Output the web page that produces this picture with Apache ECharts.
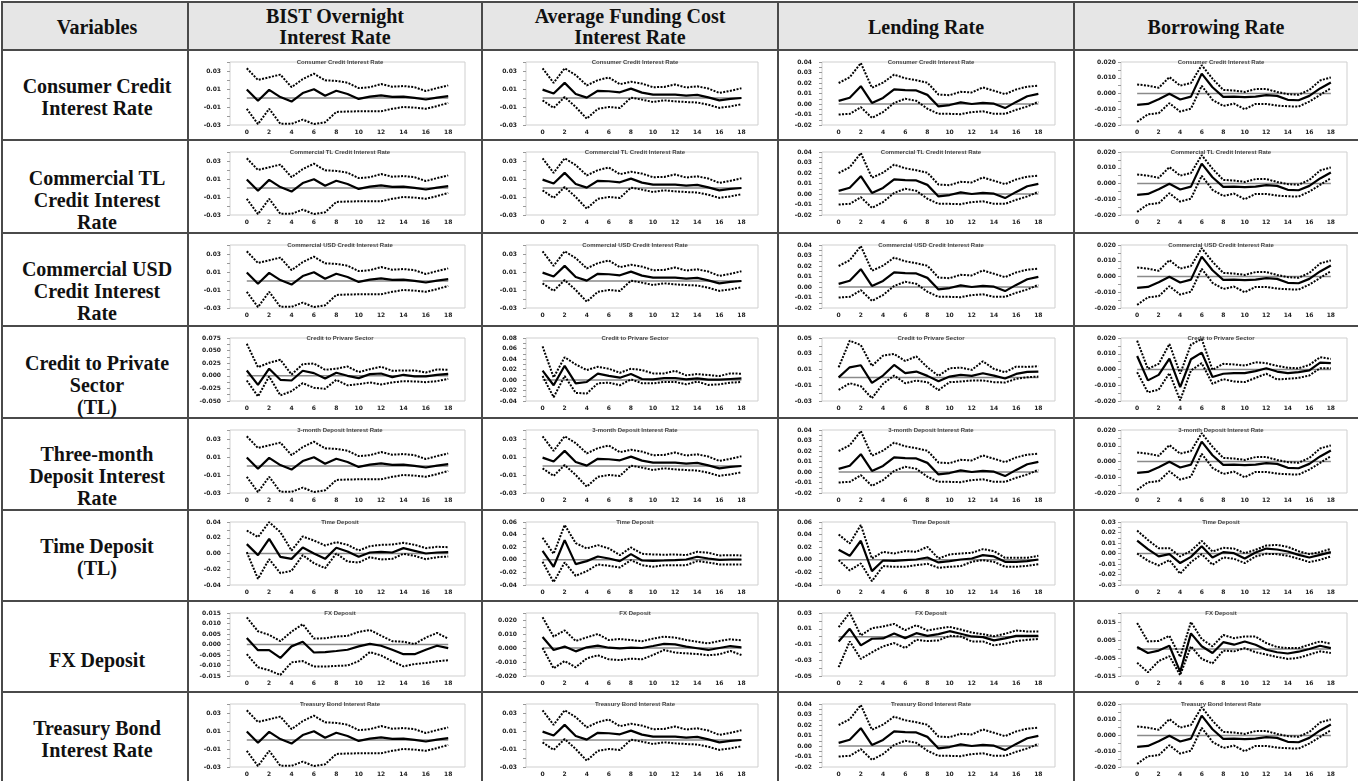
<!DOCTYPE html>
<html><head><meta charset="utf-8">
<script src="https://cdn.jsdelivr.net/npm/echarts@6/dist/echarts.min.js"></script>
<style>
html,body{margin:0;padding:0;width:1358px;height:781px;overflow:hidden;background:#fff;}
#chart{position:absolute;left:0;top:0;width:1358px;height:781px;z-index:2;}
.ln{position:absolute;background:#4a4a4a;z-index:1;}
.hdr{position:absolute;background:#e6e6e6;z-index:0;}
.txt{position:absolute;font-family:"Liberation Serif","Times New Roman",serif;font-weight:bold;font-size:20px;color:#111;text-align:center;z-index:1;white-space:nowrap;}
</style></head><body>
<div id="table"></div>
<div id="chart"></div>
<script>
// ---------------- DATA ----------------
const horizons = [0,1,2,3,4,5,6,7,8,9,10,11,12,13,14,15,16,17,18];
const zeroLine = [0,0,0,0,0,0,0,0,0,0,0,0,0,0,0,0,0,0,0];
const xTickLabels = [0,2,4,6,8,10,12,14,16,18];

const colHeaders = [['Variables'],['BIST Overnight','Interest Rate'],['Average Funding Cost','Interest Rate'],['Lending Rate'],['Borrowing Rate']];
const rowLabels = [
  ['Consumer Credit','Interest Rate'],
  ['Commercial TL','Credit Interest','Rate'],
  ['Commercial USD','Credit Interest','Rate'],
  ['Credit to Private','Sector','(TL)'],
  ['Three-month','Deposit Interest','Rate'],
  ['Time Deposit','(TL)'],
  ['FX Deposit'],
  ['Treasury Bond','Interest Rate']
];
const panelTitles = ['Consumer Credit Interest Rate','Commercial TL Credit Interest Rate','Commercial USD Credit Interest Rate','Credit to Privare Sector','3-month Deposit Interest Rate','Time Deposit','FX Deposit','Treasury Bond Interest Rate'];
const rowDataset = ['A','A','A','CP','A','TD','FX','A'];
const colKeys = ['bist','afc','lend','borr'];

// BIST overnight column
const bistA_irf = [0.0095,-0.003,0.009,0.001,-0.004,0.0055,0.0098,0.0025,0.008,0.0045,-0.001,0.0015,0.003,0.0012,0.0015,0.0002,-0.0017,0.0005,0.002];
const bistA_hi  = [0.033,0.020,0.023,0.026,0.012,0.021,0.027,0.0197,0.019,0.017,0.011,0.012,0.0155,0.0125,0.0133,0.012,0.0077,0.011,0.014];
const bistA_lo  = [-0.012,-0.029,-0.012,-0.0287,-0.0287,-0.024,-0.029,-0.027,-0.0155,-0.015,-0.0148,-0.0148,-0.0148,-0.012,-0.01,-0.0107,-0.012,-0.009,-0.0055];
const bistA_y = ['-0.03','-0.01','0.01','0.03'];  const bistA_range = [-0.03,0.04];

const bistCP_irf = [0.0106,-0.018,0.014,-0.008,-0.0093,0.01,0.0053,-0.0053,0.006,0,-0.0046,0.0033,0.0046,-0.0026,0.002,-0.0013,-0.0013,0.002,0.004];
const bistCP_hi  = [0.0635,0.017,0.0258,0.0318,0.0026,0.023,0.0245,0.012,0.014,0.0185,0.0073,0.0132,0.0179,0.01,0.0106,0.0106,0.0066,0.0126,0.012];
const bistCP_lo  = [-0.0093,-0.041,-0.0013,-0.039,-0.0304,-0.0146,-0.0238,-0.0258,-0.008,-0.019,-0.0165,-0.0132,-0.0172,-0.0132,-0.0106,-0.0112,-0.0126,-0.0106,-0.006];
const bistCP_y = ['-0.050','-0.025','0.000','0.025','0.050','0.075'];  const bistCP_range = [-0.05,0.075];

const bistTD_irf = [0.0119,-0.0021,0.0186,-0.0042,-0.0068,0.0076,0,-0.0068,0.0072,0.0025,-0.0042,0.0013,0.0021,0.0013,0.0068,0.0034,0,0.0013,0.0017];
const bistTD_hi  = [0.0292,0.0208,0.0398,0.0271,0.0038,0.0216,0.0165,0.0102,0.0144,0.011,0.0038,0.0093,0.011,0.0114,0.0136,0.011,0.0068,0.0085,0.008];
const bistTD_lo  = [0.0017,-0.0322,-0.0072,-0.025,-0.022,-0.0021,-0.0123,-0.0186,0,-0.0102,-0.0114,-0.0047,-0.0076,-0.0068,-0.0004,-0.003,-0.0072,-0.0047,-0.0038];
const bistTD_y = ['-0.04','-0.02','0.00','0.02','0.04'];  const bistTD_range = [-0.04,0.04];

const bistFX_irf = [0.0031,-0.0027,-0.0027,-0.0064,-0.0009,0.0013,-0.0038,-0.0036,-0.0031,-0.0025,-0.0009,0.0003,-0.0006,-0.0025,-0.0046,-0.0046,-0.0025,-0.0006,-0.0017];
const bistFX_hi  = [0.0129,0.0063,0.0046,0.0016,0.0061,0.0097,0.0028,0.003,0.0038,0.0041,0.006,0.0069,0.0042,0.0016,0.0013,0.0002,0.0033,0.0055,0.0028];
const bistFX_lo  = [-0.0046,-0.0108,-0.0123,-0.0145,-0.0085,-0.0079,-0.0105,-0.0105,-0.0102,-0.01,-0.0079,-0.0036,-0.0052,-0.008,-0.0104,-0.0093,-0.0088,-0.008,-0.0075];
const bistFX_y = ['-0.015','-0.010','-0.005','0.000','0.005','0.010','0.015'];  const bistFX_range = [-0.015,0.015];

// Average funding cost column
const afcA_irf = [0.0093,0.005,0.0168,0.0045,0.0004,0.008,0.0075,0.0063,0.0104,0.006,0.0037,0.0037,0.0037,0.0026,0.0034,0.0007,-0.0026,-0.001,0.0];
const afcA_hi  = [0.033,0.0168,0.033,0.0255,0.014,0.0198,0.0228,0.0153,0.018,0.016,0.012,0.0123,0.015,0.0116,0.013,0.0105,0.0056,0.008,0.0108];
const afcA_lo  = [-0.0026,-0.011,0.0011,-0.01,-0.023,-0.012,-0.01,-0.011,0.0004,-0.0018,-0.0045,-0.0026,-0.0037,-0.0045,-0.005,-0.0075,-0.011,-0.0093,-0.007];
const afcA_y = ['-0.03','-0.01','0.01','0.03'];  const afcA_range = [-0.03,0.04];

const afcCP_irf = [0.018,-0.01,0.027,-0.0063,-0.0038,0.012,0.008,0.0044,0.0113,0.0019,0.0013,0.0038,0.0038,0.0013,0.0031,0.0006,0.0006,0.0019,0.0031];
const afcCP_hi  = [0.064,0.005,0.0434,0.0296,0.0189,0.0252,0.0214,0.0138,0.0214,0.0189,0.0126,0.0126,0.0176,0.0088,0.0113,0.0094,0.0075,0.0126,0.012];
const afcCP_lo  = [0.0075,-0.0327,0.0075,-0.0245,-0.0258,-0.0063,-0.005,-0.01,0.0013,-0.0063,-0.0063,-0.0038,-0.0038,-0.0082,-0.0031,-0.0094,-0.0082,-0.005,-0.0038];
const afcCP_y = ['-0.04','-0.02','0.00','0.02','0.04','0.06','0.08'];  const afcCP_range = [-0.04,0.08];

const afcTD_irf = [0.0143,-0.0111,0.0312,-0.0069,-0.0021,0.0053,0.0021,-0.0021,0.009,-0.0011,-0.0016,-0.0011,-0.0005,0.0005,0.0048,0.0021,0,0.0005,0.0005];
const afcTD_hi  = [0.035,0.0095,0.0553,0.0265,0.018,0.0233,0.018,0.0074,0.0196,0.0095,0.0085,0.008,0.0085,0.0074,0.0127,0.0111,0.0069,0.0074,0.0069];
const afcTD_lo  = [-0.0032,-0.0355,-0.0042,-0.0254,-0.018,-0.0074,-0.0095,-0.0122,-0.0005,-0.0085,-0.0111,-0.0085,-0.0085,-0.0085,-0.0021,-0.0042,-0.0074,-0.0074,-0.0074];
const afcTD_y = ['-0.04','-0.02','0.00','0.02','0.04','0.06'];  const afcTD_range = [-0.04,0.06];

const afcFX_irf = [0.0079,-0.0014,0.001,-0.0024,0.0005,0.0017,0.0002,-0.0002,0.0002,0,0.0014,0.0029,0.0026,0.001,-0.0002,-0.0014,0,0.0014,0.0005];
const afcFX_hi  = [0.0219,0.0081,0.0126,0.005,0.0076,0.01,0.0057,0.0064,0.0057,0.0048,0.0067,0.0081,0.0074,0.0057,0.0045,0.0033,0.005,0.0062,0.0055];
const afcFX_lo  = [0,-0.0145,-0.0093,-0.0138,-0.0074,-0.0052,-0.0081,-0.0086,-0.0076,-0.0081,-0.005,-0.0014,-0.0033,-0.0038,-0.0043,-0.0052,-0.0045,-0.0021,-0.005];
const afcFX_y = ['-0.020','-0.010','0.000','0.010','0.020'];  const afcFX_range = [-0.02,0.025];

// Lending rate column
const lendA_irf = [0.003,0.006,0.017,0.001,0.0058,0.0139,0.0132,0.0129,0.0087,-0.0023,-0.001,0.0016,0.0,0.001,0.0003,-0.0039,0.002,0.0074,0.0097];
const lendA_hi  = [0.02,0.0255,0.039,0.0155,0.0203,0.028,0.0245,0.0226,0.0203,0.009,0.0084,0.0116,0.011,0.0158,0.0126,0.0094,0.0139,0.0165,0.0174];
const lendA_lo  = [-0.01,-0.0094,-0.003,-0.0132,-0.0077,0.001,0.005,0.003,-0.0045,-0.0094,-0.0094,-0.0097,-0.0077,-0.007,-0.0094,-0.0094,-0.0055,-0.0023,0.002];
const lendA_y = ['-0.02','-0.01','0.00','0.01','0.02','0.03','0.04'];  const lendA_range = [-0.02,0.04];

const lendCP_irf = [0.0,0.0128,0.0154,-0.007,0.0023,0.0158,0.0053,0.0074,0.0019,-0.0048,0.001,0.0032,0.0019,0.0053,0.0023,-0.0015,0.0044,0.007,0.0074];
const lendCP_hi  = [0.0128,0.0465,0.041,0.0145,0.0276,0.0297,0.0208,0.0267,0.0128,0.0019,0.0116,0.0124,0.0095,0.0204,0.0107,0.0065,0.0137,0.0133,0.0141];
const lendCP_lo  = [-0.0158,-0.0074,-0.0112,-0.0265,-0.0082,0.0023,-0.0074,-0.004,-0.0061,-0.0162,-0.0061,-0.0053,-0.004,-0.004,-0.0061,-0.0065,-0.0019,0.0002,0.001];
const lendCP_y = ['-0.03','-0.01','0.01','0.03','0.05'];  const lendCP_range = [-0.03,0.05];

const lendTD_irf = [0.0159,0.0063,0.0302,-0.018,-0.0011,-0.0016,-0.0005,0.0005,0.0037,-0.0042,-0.0021,0.0005,0.0021,0.0074,0.0053,-0.0032,-0.0032,-0.0021,0.0005];
const lendTD_hi  = [0.0402,0.0259,0.0553,0.0021,0.0127,0.01,0.0138,0.0127,0.0206,0.0021,0.0085,0.01,0.0111,0.0169,0.0138,0.0032,0.0032,0.0032,0.0063];
const lendTD_lo  = [-0.0005,-0.0169,-0.0058,-0.0339,-0.01,-0.0111,-0.0111,-0.0085,-0.0063,-0.0127,-0.0111,-0.01,-0.0032,-0.0005,-0.0032,-0.0111,-0.0111,-0.0095,-0.0069];
const lendTD_y = ['-0.04','-0.02','0.00','0.02','0.04','0.06'];  const lendTD_range = [-0.04,0.06];

const lendFX_irf = [-0.0061,0.0099,-0.0111,-0.0027,-0.0023,0.004,-0.0019,0.0044,0.001,0.0031,0.0069,0.0036,0.0002,-0.0006,-0.0048,-0.0023,0.001,0.001,0.001];
const lendFX_hi  = [0.012,0.0304,0.0015,0.0107,0.0128,0.0162,0.0082,0.0145,0.0078,0.0103,0.0124,0.009,0.0052,0.0031,0.0006,0.0036,0.0078,0.0065,0.0065];
const lendFX_lo  = [-0.0388,-0.0061,-0.0283,-0.0199,-0.0124,-0.0082,-0.0145,-0.004,-0.0057,-0.0048,0.001,0.0002,-0.0061,-0.0061,-0.0111,-0.009,-0.0057,-0.004,-0.0031];
const lendFX_y = ['-0.05','-0.03','-0.01','0.01','0.03'];  const lendFX_range = [-0.05,0.03];

// Borrowing rate column
const borrA_irf = [-0.0072,-0.0066,-0.0036,-0.0002,-0.0038,-0.002,0.0126,0.004,-0.0021,-0.002,-0.0023,-0.002,-0.001,-0.0015,-0.004,-0.0043,-0.0015,0.0032,0.007];
const borrA_hi  = [0.0057,0.005,0.0036,0.0104,0.005,0.0066,0.018,0.0094,0.0023,0.0019,0.001,0.0028,0.0028,0.001,-0.0004,-0.0008,0.0023,0.0083,0.0102];
const borrA_lo  = [-0.018,-0.0132,-0.0125,-0.0062,-0.0115,-0.0096,0.0049,-0.004,-0.0079,-0.0064,-0.01,-0.0066,-0.0066,-0.0077,-0.0081,-0.0083,-0.0051,-0.0009,0.0034];
const borrA_y = ['-0.020','-0.010','0.000','0.010','0.020'];  const borrA_range = [-0.02,0.02];

const borrCP_irf = [0.0086,-0.0069,-0.0034,0.0069,-0.0112,0.0065,0.0107,-0.0048,-0.0027,-0.0023,-0.0023,-0.001,0.0008,-0.0013,-0.0023,-0.0017,-0.0006,0.0044,0.004];
const borrCP_hi  = [0.0183,0.0004,0.0036,0.0162,-0.0027,0.0158,0.0194,-0.0002,0.0036,0.0032,0.0025,0.0046,0.004,0.0023,0.0011,0.0008,0.0029,0.0078,0.0067];
const borrCP_lo  = [-0.0017,-0.0145,-0.0128,-0.0023,-0.0196,-0.0006,0.004,-0.0091,-0.0061,-0.0076,-0.008,-0.0053,-0.0027,-0.0063,-0.0059,-0.0053,-0.0038,0.0008,0.0008];
const borrCP_y = ['-0.020','-0.010','0.000','0.010','0.020'];  const borrCP_range = [-0.02,0.02];

const borrTD_irf = [0.0123,0.0041,-0.0028,-0.0006,-0.0091,-0.0032,0.0069,-0.0038,0.0013,0.0003,-0.0047,0.0009,0.0047,0.0038,0.0019,-0.0013,-0.0038,-0.0013,0.0013];
const borrTD_hi  = [0.0218,0.0129,0.005,0.005,-0.0028,0.0025,0.012,0.0019,0.0054,0.0047,0.0003,0.0035,0.0076,0.0082,0.0063,0.0022,-0.0006,0.0013,0.0044];
const borrTD_lo  = [0,-0.0069,-0.0114,-0.0063,-0.0192,-0.0082,-0.0006,-0.0107,-0.0038,-0.005,-0.0091,-0.0028,-0.0003,-0.0006,-0.0022,-0.005,-0.0082,-0.006,-0.0028];
const borrTD_y = ['-0.03','-0.02','-0.01','0.00','0.01','0.02','0.03'];  const borrTD_range = [-0.03,0.03];

const borrFX_irf = [0.0011,-0.0022,-0.0009,0.0018,-0.0127,0.0087,0.0015,-0.0022,0.0038,0.0024,0.0042,0.0024,-0.0004,-0.0018,-0.0025,-0.0015,0,0.0018,0.0005];
const borrFX_hi  = [0.0145,0.0042,0.0045,0.0073,-0.0044,0.015,0.0055,0.0015,0.0078,0.006,0.0069,0.0069,0.0033,0.0011,0.0005,0.0005,0.0024,0.0042,0.0029];
const borrFX_lo  = [-0.0076,-0.0129,-0.0067,-0.004,-0.0145,0.0015,-0.0055,-0.008,-0.0009,-0.0013,0.0005,-0.0018,-0.0031,-0.0044,-0.0055,-0.0049,-0.0031,-0.0013,-0.0022];
const borrFX_y = ['-0.015','-0.005','0.005','0.015'];  const borrFX_range = [-0.015,0.02];

// ---------------- LAYOUT (positions / styles) ----------------
const colEdges = [2,188,482,778,1074,1358];
const rowEdges = [2,50,140,233,326,418,510,601,692,781];
const rowLabelCenters = [97,200,291,385,476,557,660,739];
const gridCols = [
  {left:230, width:235, margin:9},
  {left:526, width:232, margin:9},
  {left:822, width:233, margin:10},
  {left:1121, width:226, margin:5}
];

// build lookup from the named arrays
const store = {
  bist:{A:[bistA_irf,bistA_lo,bistA_hi,bistA_y,bistA_range],CP:[bistCP_irf,bistCP_lo,bistCP_hi,bistCP_y,bistCP_range],TD:[bistTD_irf,bistTD_lo,bistTD_hi,bistTD_y,bistTD_range],FX:[bistFX_irf,bistFX_lo,bistFX_hi,bistFX_y,bistFX_range]},
  afc:{A:[afcA_irf,afcA_lo,afcA_hi,afcA_y,afcA_range],CP:[afcCP_irf,afcCP_lo,afcCP_hi,afcCP_y,afcCP_range],TD:[afcTD_irf,afcTD_lo,afcTD_hi,afcTD_y,afcTD_range],FX:[afcFX_irf,afcFX_lo,afcFX_hi,afcFX_y,afcFX_range]},
  lend:{A:[lendA_irf,lendA_lo,lendA_hi,lendA_y,lendA_range],CP:[lendCP_irf,lendCP_lo,lendCP_hi,lendCP_y,lendCP_range],TD:[lendTD_irf,lendTD_lo,lendTD_hi,lendTD_y,lendTD_range],FX:[lendFX_irf,lendFX_lo,lendFX_hi,lendFX_y,lendFX_range]},
  borr:{A:[borrA_irf,borrA_lo,borrA_hi,borrA_y,borrA_range],CP:[borrCP_irf,borrCP_lo,borrCP_hi,borrCP_y,borrCP_range],TD:[borrTD_irf,borrTD_lo,borrTD_hi,borrTD_y,borrTD_range],FX:[borrFX_irf,borrFX_lo,borrFX_hi,borrFX_y,borrFX_range]}
};

// ---------------- TABLE (HTML) ----------------
const tbl = document.getElementById('table');
function addDiv(cls, css, html){ const d=document.createElement('div'); d.className=cls; Object.assign(d.style,css); if(html!==undefined) d.innerHTML=html; tbl.appendChild(d); return d; }
addDiv('hdr',{left:'2px',top:'2px',width:'1356px',height:'48px'});
rowEdges.slice(0,-1).forEach(y=>addDiv('ln',{left:'1px',top:(y-1)+'px',width:'1357px',height:'2px'}));
colEdges.slice(0,-1).forEach(x=>addDiv('ln',{left:(x-1)+'px',top:'1px',width:'2px',height:'780px'}));
function addText(lines, cx, cy, lh){
  const h = lines.length*lh;
  addDiv('txt',{left:(cx-200)+'px',width:'400px',top:(cy-h/2)+'px',lineHeight:lh+'px'}, lines.join('<br>'));
}
colHeaders.forEach((lines,c)=>{
  const cx = c===0 ? 97 : (colEdges[c]+colEdges[c+1])/2;
  addText(lines, cx, 27, 21);
});
rowLabels.forEach((lines,r)=>addText(lines, 97, rowLabelCenters[r], 22));

// ---------------- CHARTS ----------------
const chart = echarts.init(document.getElementById('chart'), null, {renderer:'canvas'});
const grids=[], xAxes=[], yAxes=[], series=[], titles=[];
const labelFont = {fontFamily:'DejaVu Sans', fontWeight:'bold', fontSize:6, color:'#222'};
function tickValues(lbls, range){
  const v = lbls.map(Number);
  const half = (v[1]-v[0])/2;
  const out=[];
  for(let t=v[0]; t>=range[0]-1e-9; t-=half) out.push(+t.toFixed(6));
  for(let t=v[0]+half; t<=range[1]+1e-9; t+=half) out.push(+t.toFixed(6));
  return out;
}
let k=0;
for(let r=0;r<8;r++){
  for(let c=0;c<4;c++){
    const [irf,lo,hi,ylbl,yr] = store[colKeys[c]][rowDataset[r]];
    const gc = gridCols[c];
    const top = rowEdges[r+1]+12;
    grids.push({left:gc.left, top:top, width:gc.width, height:63, show:true, borderColor:'#cfcfcf', borderWidth:1, backgroundColor:'#fff'});
    titles.push({text:panelTitles[r], left:(colEdges[c+1]+colEdges[c+2])/2, top:rowEdges[r+1]+4.5, textAlign:'center',
      textStyle:{fontFamily:'Liberation Sans', fontWeight:'bold', fontSize:6, color:'#444'}});
    xAxes.push({gridIndex:k, type:'value', min:-1.5, max:19.5,
      axisLine:{show:false, onZero:false}, axisTick:{show:false}, splitLine:{show:false},
      axisLabel:Object.assign({customValues:xTickLabels, margin:4}, labelFont)});
    const lblMap = {}; ylbl.forEach(s=>{ lblMap[(+s).toFixed(6)] = s; });
    yAxes.push({gridIndex:k, type:'value', min:yr[0], max:yr[1],
      axisLine:{show:false, onZero:false}, splitLine:{show:false},
      axisTick:{show:true, length:3, lineStyle:{color:'#999', width:1}, customValues:tickValues(ylbl, yr)},
      axisLabel:Object.assign({customValues:ylbl.map(Number), margin:gc.margin,
        formatter:v=>lblMap[(+v).toFixed(6)]||''}, labelFont)});
    const pairs = arr => horizons.map((h,i)=>[h,arr[i]]);
    const base = {type:'line', xAxisIndex:k, yAxisIndex:k, symbol:'none', silent:true, animation:false};
    series.push(Object.assign({}, base, {data:pairs(zeroLine), lineStyle:{color:'#8a8a8a', width:1.5}, z:2}));
    series.push(Object.assign({}, base, {data:pairs(lo), lineStyle:{color:'#000', width:2, type:[2,1.4]}, z:3}));
    series.push(Object.assign({}, base, {data:pairs(hi), lineStyle:{color:'#000', width:2, type:[2,1.4]}, z:3}));
    series.push(Object.assign({}, base, {data:pairs(irf), lineStyle:{color:'#000', width:2.2}, z:4}));
    k++;
  }
}
chart.setOption({animation:false, backgroundColor:'transparent', title:titles, grid:grids, xAxis:xAxes, yAxis:yAxes, series:series});
</script>
</body></html>
